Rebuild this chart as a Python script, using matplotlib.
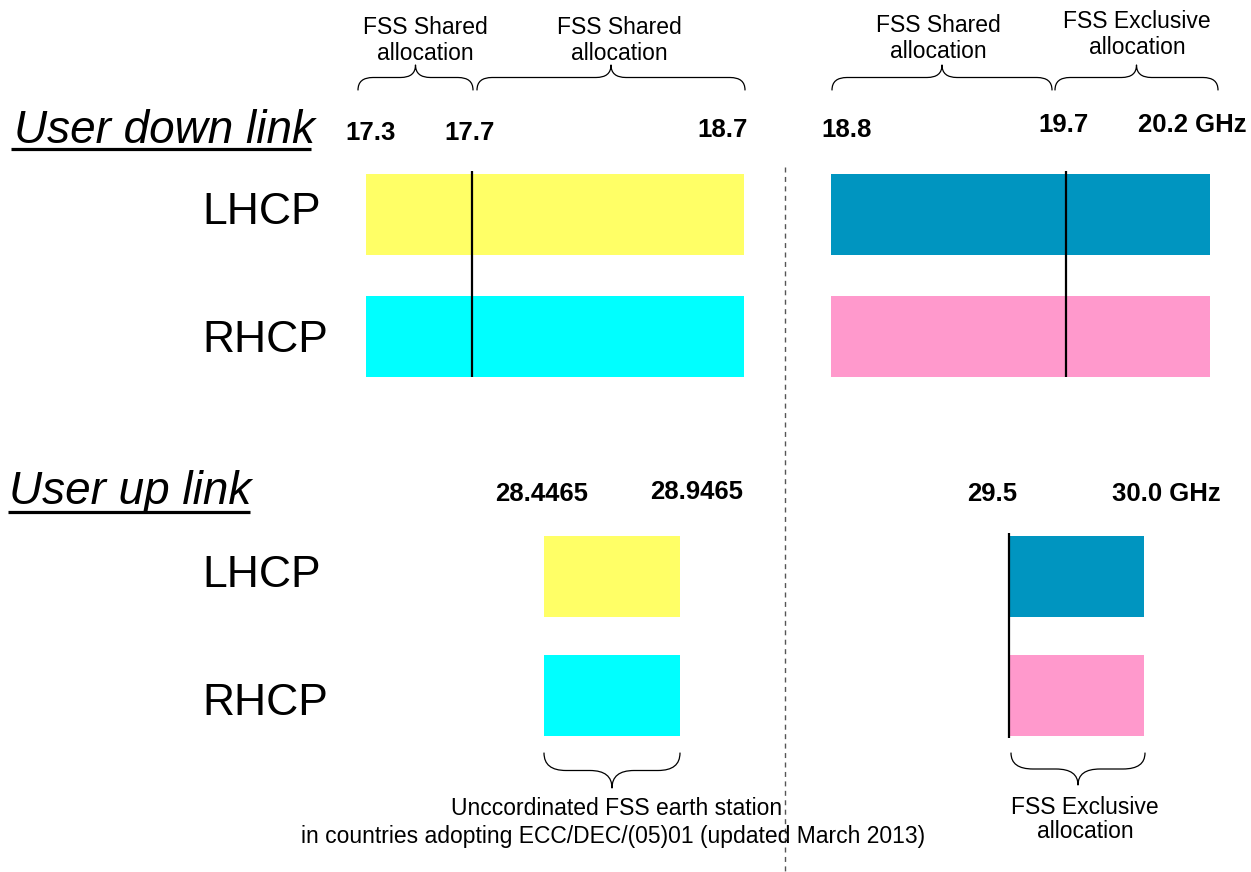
import numpy as np
import matplotlib
matplotlib.use("Agg")
import matplotlib.pyplot as plt
from matplotlib.path import Path
from matplotlib.patches import PathPatch

plt.rcParams['font.family'] = ['Liberation Sans', 'DejaVu Sans']
plt.rcParams['lines.scale_dashes'] = False

# ---------------- data ----------------
polarisations = ['LHCP', 'RHCP']

dl_freqs = [17.3, 17.7, 18.7, 18.8, 19.7, 20.2]
dl_freq_labels = ['17.3', '17.7', '18.7', '18.8', '19.7', '20.2 GHz']
dl_band_lo = [17.3, 18.8]
dl_band_hi = [18.7, 20.2]
dl_lhcp_colors = ['#FFFF66', '#0095C0']
dl_rhcp_colors = ['#00FFFF', '#FF99CC']
dl_dividers = [17.7, 19.7]

ul_freqs = [28.4465, 28.9465, 29.5, 30.0]
ul_freq_labels = ['28.4465', '28.9465', '29.5', '30.0 GHz']
ul_band_lo = [28.4465, 29.5]
ul_band_hi = [28.9465, 30.0]
ul_lhcp_colors = ['#FFFF66', '#0095C0']
ul_rhcp_colors = ['#00FFFF', '#FF99CC']
ul_dividers = [29.5]

top_alloc_labels = [('FSS Shared', 'allocation'), ('FSS Shared', 'allocation'),
                    ('FSS Shared', 'allocation'), ('FSS Exclusive', 'allocation')]
bottom_alloc_labels = [('Unccordinated FSS earth station',
                        'in countries adopting ECC/DEC/(05)01 (updated March 2013)'),
                       ('FSS Exclusive', 'allocation')]

# ---------------- layout (pixels) ----------------
W, H = 1251, 872
dl_px = [366, 472, 744, 831, 1066, 1210]   # schematic positions of dl_freqs
ul_px = [544, 680, 1009, 1144]             # schematic positions of ul_freqs
dl_rows = [214.5, 336.5]
ul_rows = [576.5, 695.5]
BAR_H = 81
dl_div_span = (171, 377)
ul_div_span = (533, 738)

fig = plt.figure(figsize=(W / 100, H / 100), dpi=100)


def schematic_scale(freqs, px):
    f = np.asarray(freqs, float)
    p = np.asarray(px, float)
    s0 = (p[1] - p[0]) / (f[1] - f[0])
    s1 = (p[-1] - p[-2]) / (f[-1] - f[-2])
    F = np.concatenate([[f[0] - 1000], f, [f[-1] + 1000]])
    P = np.concatenate([[p[0] - 1000 * s0], p, [p[-1] + 1000 * s1]])
    fwd = lambda x: np.interp(x, F, P)
    inv = lambda y: np.interp(y, P, F)
    return fwd, inv


def band_axes(freqs, px):
    ax = fig.add_axes([0, 0, 1, 1])
    ax.patch.set_alpha(0)
    fwd, inv = schematic_scale(freqs, px)
    ax.set_xscale('function', functions=(fwd, inv))
    ax.set_xlim(float(inv(0)), float(inv(W)))
    ax.set_ylim(H, 0)
    ax.axis('off')
    return ax


ax_dl = band_axes(dl_freqs, dl_px)
for lo, hi, cl, cr in zip(dl_band_lo, dl_band_hi, dl_lhcp_colors, dl_rhcp_colors):
    ax_dl.barh(dl_rows[0], hi - lo, left=lo, height=BAR_H, color=cl, linewidth=0)
    ax_dl.barh(dl_rows[1], hi - lo, left=lo, height=BAR_H, color=cr, linewidth=0)
ax_dl.vlines(dl_dividers, dl_div_span[0], dl_div_span[1], colors='black', linewidth=1.6)

ax_ul = band_axes(ul_freqs, ul_px)
for lo, hi, cl, cr in zip(ul_band_lo, ul_band_hi, ul_lhcp_colors, ul_rhcp_colors):
    ax_ul.barh(ul_rows[0], hi - lo, left=lo, height=BAR_H, color=cl, linewidth=0)
    ax_ul.barh(ul_rows[1], hi - lo, left=lo, height=BAR_H, color=cr, linewidth=0)
ax_ul.vlines(ul_dividers, ul_div_span[0], ul_div_span[1], colors='black', linewidth=1.6)

# ---------------- annotation layer (pixel coords) ----------------
ax = fig.add_axes([0, 0, 1, 1])
ax.patch.set_alpha(0)
ax.set_xlim(0, W)
ax.set_ylim(H, 0)
ax.axis('off')


def brace(x0, x1, y_end, y_tip, a):
    xc = (x0 + x1) / 2
    ym = (y_end + y_tip) / 2
    verts = [(x0, y_end), (x0, ym), (x0 + a, ym),
             (xc - a, ym),
             (xc, ym), (xc, y_tip),
             (xc, ym), (xc + a, ym),
             (x1 - a, ym),
             (x1, ym), (x1, y_end)]
    codes = [Path.MOVETO, Path.CURVE3, Path.CURVE3,
             Path.LINETO,
             Path.CURVE3, Path.CURVE3,
             Path.CURVE3, Path.CURVE3,
             Path.LINETO,
             Path.CURVE3, Path.CURVE3]
    ax.add_patch(PathPatch(Path(verts, codes), fill=False, edgecolor='black',
                           linewidth=0.9, capstyle='round', joinstyle='round'))


# headings
ax.text(14, 143, 'User down link', fontsize=33, style='italic', ha='left', va='baseline')
ax.plot([11, 311], [149, 149], color='black', linewidth=2.3, solid_capstyle='butt')
ax.text(9, 504, 'User up link', fontsize=33, style='italic', ha='left', va='baseline')
ax.plot([8, 250], [512, 512], color='black', linewidth=2.3, solid_capstyle='butt')

# polarisation labels
for y, lab in zip([212, 340], polarisations):
    ax.text(202, y, lab, fontsize=32, ha='left', va='center')
for y, lab in zip([575, 703], polarisations):
    ax.text(202, y, lab, fontsize=32, ha='left', va='center')

# frequency labels
dl_lab_pos = [(371, 133), (470, 133), (723, 130), (847, 130), (1064, 125), (1192, 125)]
for (x, y), lab in zip(dl_lab_pos, dl_freq_labels):
    ax.text(x, y, lab, fontsize=18.5, fontweight='bold', ha='center', va='center')
ul_lab_pos = [(542, 494), (697, 492), (992, 494), (1166, 494)]
for (x, y), lab in zip(ul_lab_pos, ul_freq_labels):
    ax.text(x, y, lab, fontsize=18.5, fontweight='bold', ha='center', va='center')

# top braces + labels
top_braces = [(358, 473), (477, 745), (832, 1052), (1055, 1218)]
top_text_centers = [425, 619, 938, 1137]
top_text_y = [(27, 53), (27, 53), (26, 52), (22, 48)]
for (x0, x1), xc, (l1, l2), (y1, y2) in zip(top_braces, top_text_centers,
                                            top_alloc_labels, top_text_y):
    brace(x0, x1, 90, 65, 15)
    ax.text(xc, y1, l1, fontsize=16.5, ha='center', va='center')
    ax.text(xc, y2, l2, fontsize=16.5, ha='center', va='center')

# bottom braces + labels
brace(544, 680, 753, 788, 22)
brace(1011, 1145, 753, 785, 22)
(b1, b2), (c1, c2) = bottom_alloc_labels
ax.text(617, 808, b1, fontsize=16.5, ha='center', va='center')
ax.text(613, 836, b2, fontsize=16.5, ha='center', va='center')
ax.text(1085, 807, c1, fontsize=16.5, ha='center', va='center')
ax.text(1085, 831, c2, fontsize=16.5, ha='center', va='center')

# dashed separator
ax.plot([785, 785], [167, H], color='#555555', linewidth=1.0, dashes=(3.6, 3.2))

fig.savefig('out.png', dpi=100)
